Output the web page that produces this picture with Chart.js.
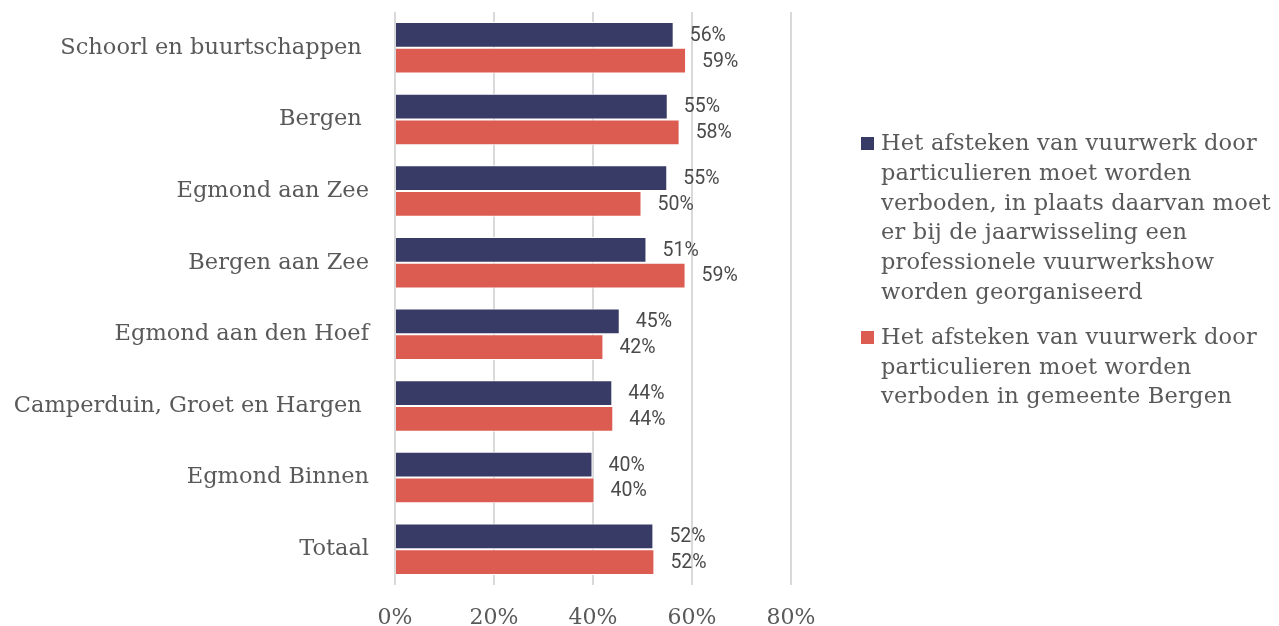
<!DOCTYPE html>
<html>
<head>
<meta charset="utf-8">
<script src="https://cdn.jsdelivr.net/npm/chart.js@4"></script>
<style>
  html, body { margin: 0; padding: 0; background: #fff; }
  #wrap { position: relative; width: 1279px; height: 626px; }
  #legend { position: absolute; left: 860px; top: 128px; width: 419px; white-space: nowrap;
    font-family: 'DejaVu Serif', serif; font-size: 22.5px; letter-spacing: 0.2px; line-height: 29.8px; color: #595959; }
  .item { position: relative; padding-left: 21px; margin-bottom: 15px; }
  .box { position: absolute; left: 1px; top: 9px; width: 13px; height: 13px; }
</style>
</head>
<body>
<div id="wrap">
  <canvas id="barChart" width="1279" height="626"></canvas>
  <div id="legend"></div>
</div>
<script>
const categories = ['Schoorl en buurtschappen ', 'Bergen ', 'Egmond aan Zee', 'Bergen aan Zee',
  'Egmond aan den Hoef', 'Camperduin, Groet en Hargen ', 'Egmond Binnen', 'Totaal']
const showData = [56.3, 55.1, 55.0, 50.8, 45.4, 43.9, 39.9, 52.2]
const banData = [58.8, 57.5, 49.8, 58.7, 42.1, 44.1, 40.3, 52.4]
const seriesNames = [
  ['Het afsteken van vuurwerk door', 'particulieren moet worden', 'verboden, in plaats daarvan moet',
    'er bij de jaarwisseling een', 'professionele vuurwerkshow', 'worden georganiseerd'],
  ['Het afsteken van vuurwerk door', 'particulieren moet worden', 'verboden in gemeente Bergen'],
]
const xTicks = [0, 20, 40, 60, 80]

const colors = ['#383b66', '#dd5c51']

// labels next to the bar ends
const barValueLabels = {
  id: 'barValueLabels',
  afterDatasetsDraw(chart) {
    const { ctx } = chart
    ctx.save()
    ctx.font = '19.5px Roboto'
    ctx.fillStyle = '#4a4a4a'
    ctx.textBaseline = 'middle'
    chart.data.datasets.forEach((ds, idx) => {
      chart.getDatasetMeta(idx).data.forEach((bar, i) => {
        ctx.fillText(Math.round(ds.data[i]) + '%', bar.x + 16, bar.y + 1)
      })
    })
    ctx.restore()
  },
}

new Chart(document.getElementById('barChart').getContext('2d'), {
  type: 'bar',
  data: {
    labels: categories,
    datasets: [
      { label: seriesNames[0].join(' '), data: showData, backgroundColor: colors[0], borderColor: '#fff', borderWidth: 1 },
      { label: seriesNames[1].join(' '), data: banData, backgroundColor: colors[1], borderColor: '#fff', borderWidth: 1 },
    ],
  },
  options: {
    indexAxis: 'y',
    responsive: false,
    animation: false,
    categoryPercentage: 0.72,
    barPercentage: 1,
    layout: { padding: { top: 12, right: 488, bottom: 0, left: 0 } },
    plugins: { legend: { display: false }, tooltip: { enabled: false } },
    scales: {
      x: {
        min: 0,
        max: 80,
        afterBuildTicks(axis) { axis.ticks = xTicks.map((v) => ({ value: v })) },
        afterFit(axis) { axis.height = 41 },
        grid: { color: '#d9d9d9', lineWidth: 2, drawTicks: false },
        border: { display: false },
        ticks: {
          padding: 20,
          color: '#595959',
          font: { family: 'DejaVu Serif', size: 22 },
          callback: (v) => v + '%',
        },
      },
      y: {
        grid: { display: false },
        border: { display: false },
        afterFit(axis) {
          axis.width = 395
          axis.paddingTop = 0
          axis.paddingBottom = 0
        },
        ticks: {
          padding: 18,
          color: '#595959',
          font: { family: 'DejaVu Serif', size: 22.5 },
        },
      },
    },
  },
  plugins: [barValueLabels],
})

// legend with wrapped text
const legendEl = document.getElementById('legend')
seriesNames.forEach((lines, i) => {
  const item = document.createElement('div')
  item.className = 'item'
  item.innerHTML = '<span class="box" style="background:' + colors[i] + '"></span>' + lines.join('<br>')
  legendEl.appendChild(item)
})
</script>
</body>
</html>
